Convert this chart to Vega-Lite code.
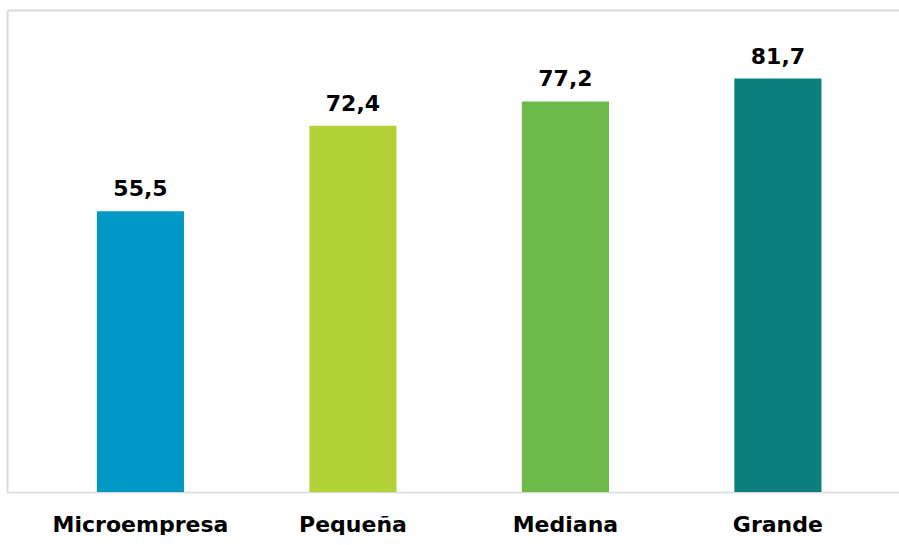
{
  "$schema": "https://vega.github.io/schema/vega-lite/v6.json",
  "width": 892,
  "height": 482,
  "padding": {"left": 7, "top": 10, "right": 0, "bottom": 0},
  "background": "#ffffff",
  "config": {
    "view": {"stroke": null},
    "font": "DejaVu Sans",
    "locale": {"number": {"decimal": ",", "thousands": ".", "grouping": [3], "currency": ["", " €"]}}
  },
  "data": {
    "values": [
      {"tamano": "Microempresa", "valor": 55.5},
      {"tamano": "Pequeña", "valor": 72.4},
      {"tamano": "Mediana", "valor": 77.2},
      {"tamano": "Grande", "valor": 81.7}
    ]
  },
  "encoding": {
    "y": {
      "field": "valor",
      "type": "quantitative",
      "scale": {"domain": [0, 95.26], "nice": false}
    }
  },
  "layer": [
    {
      "mark": {"type": "bar"},
      "encoding": {
        "x": {
          "field": "tamano",
          "type": "nominal",
          "sort": null,
          "scale": {"paddingInner": 0.59, "paddingOuter": 0.394, "align": 0.537},
          "axis": {
            "title": null,
            "domain": true,
            "domainColor": "#d9d9d9",
            "domainWidth": 1.5,
            "ticks": false,
            "labelAngle": 0,
            "labelFont": "DejaVu Sans",
            "labelFontSize": 22,
            "labelFontWeight": "bold",
            "labelColor": "#000000",
            "labelPadding": 39,
            "labelBaseline": "alphabetic"
          }
        },
        "y": {
          "field": "valor",
          "type": "quantitative",
          "axis": {
            "title": null,
            "labels": false,
            "ticks": false,
            "grid": false,
            "domain": true,
            "domainColor": "#d9d9d9",
            "domainWidth": 2
          }
        },
        "color": {
          "field": "tamano",
          "type": "nominal",
          "scale": {
            "domain": ["Microempresa", "Pequeña", "Mediana", "Grande"],
            "range": ["#0098c5", "#b3d236", "#6cba47", "#0a7f7b"]
          },
          "legend": null
        }
      }
    },
    {
      "mark": {
        "type": "text",
        "dy": -15,
        "baseline": "alphabetic",
        "fontSize": 22,
        "fontWeight": "bold",
        "color": "#000000"
      },
      "encoding": {
        "x": {
          "field": "tamano",
          "type": "nominal",
          "sort": null,
          "axis": {
            "orient": "top",
            "title": null,
            "labels": false,
            "ticks": false,
            "domain": true,
            "domainColor": "#d9d9d9",
            "domainWidth": 2
          }
        },
        "y": {"field": "valor", "type": "quantitative", "axis": null},
        "text": {"field": "valor", "type": "quantitative", "format": ".1f"}
      }
    }
  ],
  "resolve": {"axis": {"x": "independent", "y": "independent"}}
}
